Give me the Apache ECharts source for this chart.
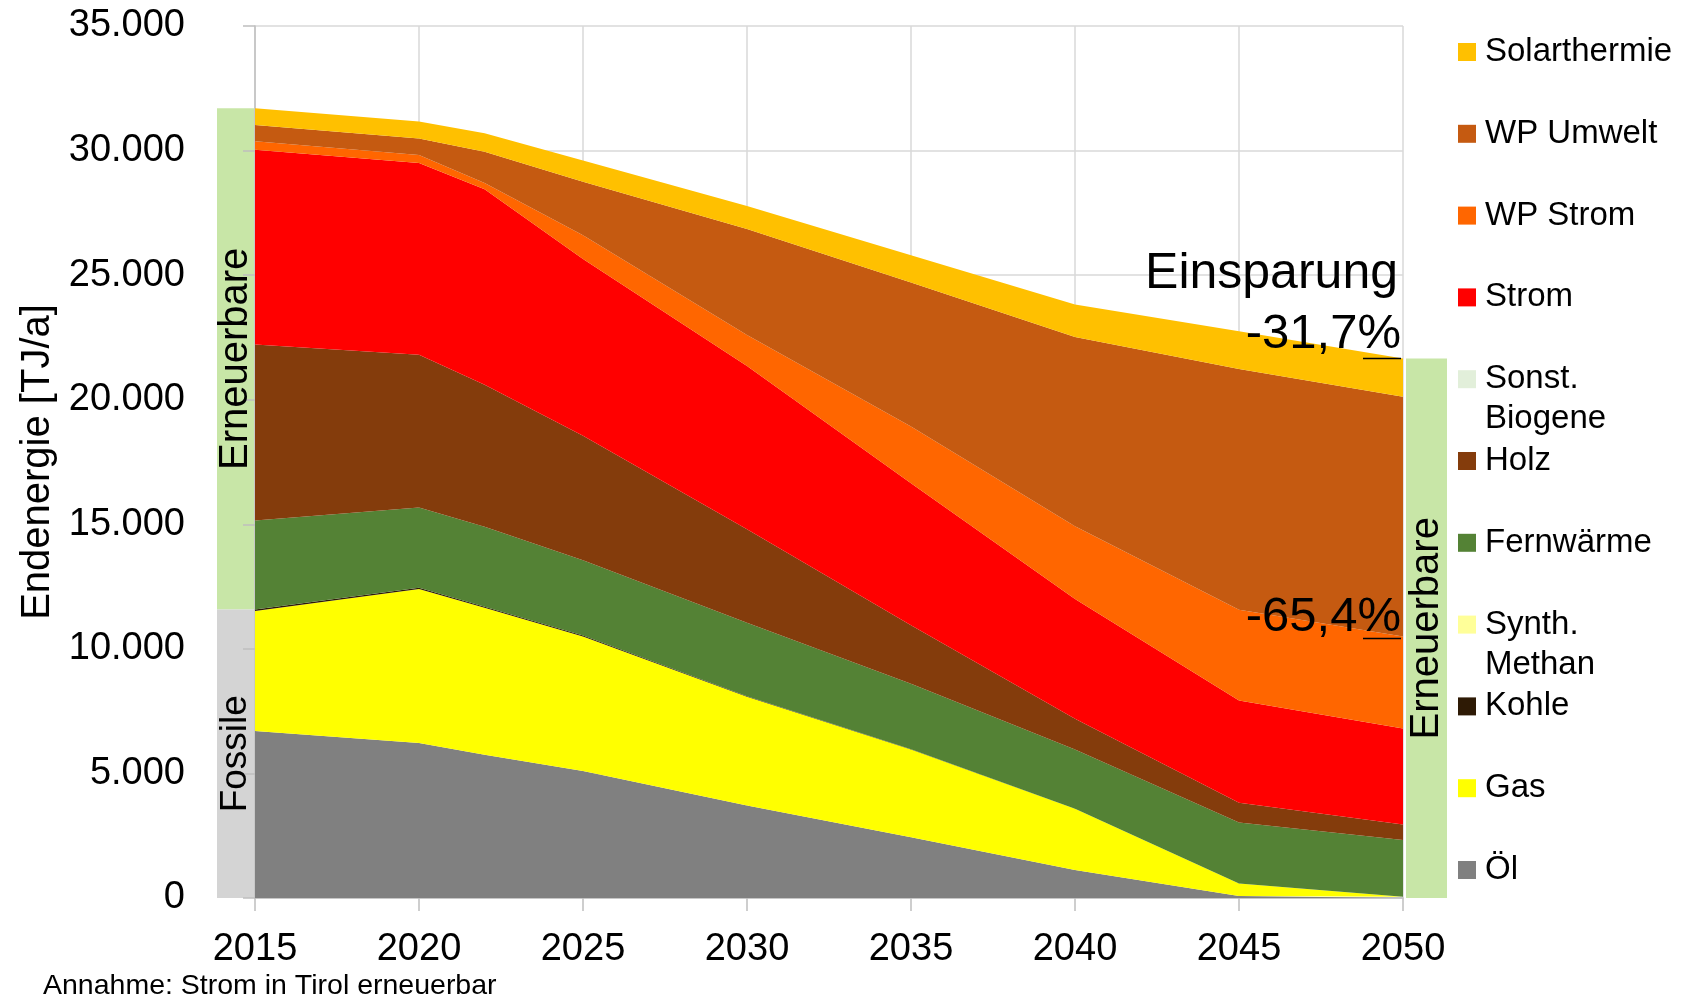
<!DOCTYPE html>
<html>
<head>
<meta charset="utf-8">
<title>Endenergie Tirol 2015–2050</title>
<script src="https://cdn.jsdelivr.net/npm/echarts@6/dist/echarts.min.js"></script>
<style>
  html, body { margin: 0; padding: 0; background: #fff; }
  #chart { width: 1687px; height: 1000px; }
</style>
</head>
<body>
<div id="chart"></div>
<script>
// Stützjahre des Szenarios
const years = [2015, 2020, 2022, 2025, 2030, 2035, 2040, 2045, 2050];

// Endenergie je Energieträger in TJ/a (von unten nach oben gestapelt)
const oel          = [6700, 6220, 5750, 5100, 3710, 2440, 1120,   80,    0];
const gas          = [4820, 6180, 5900, 5400, 4370, 3520, 2460,  500,   50];
const kohle        = [  60,   50,   45,   35,   20,   10,    0,    0,    0];
const synthMethan  = [   0,    0,    0,    0,    0,    0,    0,    0,    0];
const fernwaerme   = [3570, 3220, 3205, 3025, 2950, 2630, 2380, 2450, 2280];
const holz         = [7070, 6130, 5700, 4990, 3750, 2350, 1230,  790,  620];
const sonstBiogene = [   0,    0,    0,    0,    0,    0,    0,    0,    0];
const strom        = [7810, 7700, 7850, 7100, 6550, 5700, 4810, 4110, 3850];
const wpStrom      = [ 340,  320,  250,  950, 1250, 2270, 2920, 3640, 3700];
const wpUmwelt     = [ 660,  660, 1250, 2150, 4250, 5780, 7600, 9660, 9620];
const solarthermie = [ 670,  690,  750,  850,  930, 1100, 1300, 1520, 1530];

// Achsenbeschriftung
const yTicks = [0, 5000, 10000, 15000, 20000, 25000, 30000, 35000];
const xTicks = [2015, 2020, 2025, 2030, 2035, 2040, 2045, 2050];

// Texte
const yAxisTitle = 'Endenergie [TJ/a]';
const footnote = 'Annahme: Strom in Tirol erneuerbar';
const savingTitle = 'Einsparung';
const savingTotal = '-31,7%';
const savingPurchased = '-65,4%';

const FONT = 'Liberation Sans, Arial, Helvetica, sans-serif';

// Reihenfolge von unten nach oben, mit Farben
const layers = [
  { name: 'Öl',              data: oel,          color: '#808080', fossil: true },
  { name: 'Gas',             data: gas,          color: '#FFFF00', fossil: true },
  { name: 'Kohle',           data: kohle,        color: '#2E1A05', fossil: true },
  { name: 'Synth.\nMethan',  data: synthMethan,  color: '#FFFF99' },
  { name: 'Fernwärme',       data: fernwaerme,   color: '#548235' },
  { name: 'Holz',            data: holz,         color: '#843C0C' },
  { name: 'Sonst.\nBiogene', data: sonstBiogene, color: '#E2EFDA' },
  { name: 'Strom',           data: strom,        color: '#FF0000' },
  { name: 'WP Strom',        data: wpStrom,      color: '#FF6600' },
  { name: 'WP Umwelt',       data: wpUmwelt,     color: '#C55A11' },
  { name: 'Solarthermie',    data: solarthermie, color: '#FFC000' }
];

const dePoints = v => String(v).replace(/\B(?=(\d{3})+(?!\d))/g, '.');

const chart = echarts.init(document.getElementById('chart'), null, { renderer: 'canvas' });

// Wert steht in Spalte 0, Jahr in Spalte 1, damit der Stapel auf der Wertachse (y) liegt
const series = layers.map(l => ({
  name: l.name,
  type: 'line',
  stack: 'gesamt',
  symbol: 'none',
  showSymbol: false,
  smooth: false,
  encode: { x: 1, y: 0 },
  lineStyle: { width: 0 },
  areaStyle: { color: l.color, opacity: 1 },
  itemStyle: { color: l.color },
  emphasis: { disabled: true },
  data: years.map((y, i) => [l.data[i], y])
}));

chart.setOption({
  animation: false,
  backgroundColor: '#ffffff',
  textStyle: { fontFamily: FONT, color: '#000' },
  grid: { left: 255, right: 284, top: 26, bottom: 102, containLabel: false },
  xAxis: {
    type: 'value',
    min: xTicks[0],
    max: xTicks[xTicks.length - 1],
    interval: 5,
    axisLine: { show: true, lineStyle: { color: '#bfbfbf', width: 1.5 } },
    axisTick: { show: true, length: 13, lineStyle: { color: '#bfbfbf', width: 1.5 } },
    axisLabel: { fontSize: 38, fontFamily: FONT, color: '#000', margin: 33,
                 formatter: v => String(v) },
    splitLine: { show: true, lineStyle: { color: '#d9d9d9', width: 1.5 } }
  },
  yAxis: {
    type: 'value',
    min: yTicks[0],
    max: yTicks[yTicks.length - 1],
    interval: 5000,
    name: yAxisTitle,
    nameLocation: 'middle',
    nameGap: 197,
    nameTextStyle: { fontSize: 40, fontFamily: FONT, color: '#000' },
    axisLine: { show: true, lineStyle: { color: '#bfbfbf', width: 1.5 } },
    axisTick: { show: true, length: 12, lineStyle: { color: '#bfbfbf', width: 1.5 } },
    axisLabel: { fontSize: 38, fontFamily: FONT, color: '#000', margin: 70,
                 formatter: v => dePoints(v) },
    splitLine: { show: true, lineStyle: { color: '#d9d9d9', width: 1.5 } }
  },
  series: series
});

// Summen für Randbalken und Einsparungs-Markierungen
const n = years.length;
const sumAt = (i, upto) => layers.slice(0, upto).reduce((s, l) => s + l.data[i], 0);
const total2015 = sumAt(0, layers.length);
const total2050 = sumAt(n - 1, layers.length);
const fossil2015 = layers.filter(l => l.fossil).reduce((s, l) => s + l.data[0], 0);
const idxWpStrom = layers.findIndex(l => l.name === 'WP Strom');
const purchased2050 = sumAt(n - 1, idxWpStrom + 1);

const px = (x, y) => chart.convertToPixel({ gridIndex: 0 }, [x, y]);
const xL = px(years[0], 0)[0];
const xR = px(years[n - 1], 0)[0];
const y0 = px(years[0], 0)[1];
const yTot15 = px(years[0], total2015)[1];
const yFos15 = px(years[0], fossil2015)[1];
const yTot50 = px(years[n - 1], total2050)[1];
const yPur50 = px(years[n - 1], purchased2050)[1];

const bandGreen = '#C8E6A7';
const bandGrey = '#D4D4D4';

const graphics = [];

// Randbalken links: Erneuerbare / Fossile im Startjahr
graphics.push({ type: 'rect', z: -1, shape: { x: xL - 38, y: yTot15, width: 37, height: yFos15 - yTot15 }, style: { fill: bandGreen } });
graphics.push({ type: 'rect', z: -1, shape: { x: xL - 38, y: yFos15, width: 37, height: y0 - yFos15 }, style: { fill: bandGrey } });
// Randbalken rechts: Erneuerbare im Zieljahr
graphics.push({ type: 'rect', z: -1, shape: { x: xR + 3, y: yTot50, width: 41, height: y0 - yTot50 }, style: { fill: bandGreen } });

const vText = (text, cx, cy, size) => ({
  type: 'text', z: 10, x: cx, y: cy, rotation: Math.PI / 2,
  style: { text: text, font: size + 'px ' + FONT, fill: '#000',
           align: 'center', verticalAlign: 'middle',
           textAlign: 'center', textVerticalAlign: 'middle' }
});
graphics.push(vText('Erneuerbare', xL - 19, (yTot15 + yFos15) / 2, 40));
graphics.push(vText('Fossile', xL - 19, (yFos15 + y0) / 2, 37));
graphics.push(vText('Erneuerbare', xR + 24, (yTot50 + y0) / 2, 40));

// Einsparungen 2050 gegenüber 2015
const rText = (text, x, y, size) => ({
  type: 'text', z: 20, x: x, y: y,
  style: { text: text, font: size + 'px ' + FONT, fill: '#000',
           align: 'right', verticalAlign: 'middle',
           textAlign: 'right', textVerticalAlign: 'middle' }
});
graphics.push(rText(savingTitle, xR - 5, yTot50 - 84, 50));
graphics.push(rText(savingTotal, xR - 2, yTot50 - 24, 49));
graphics.push({ type: 'line', z: 20, shape: { x1: xR - 40, y1: yTot50, x2: xR - 2, y2: yTot50 }, style: { stroke: '#000', lineWidth: 1.5 } });
graphics.push(rText(savingPurchased, xR - 2, yPur50 - 19, 49));
graphics.push({ type: 'line', z: 20, shape: { x1: xR - 40, y1: yPur50 + 2, x2: xR - 2, y2: yPur50 + 2 }, style: { stroke: '#000', lineWidth: 1.5 } });

// Legende (oberster Layer zuerst)
const legendTop = 52;
const legendStep = 81.8;
layers.slice().reverse().forEach((l, i) => {
  const cy = legendTop + i * legendStep;
  graphics.push({ type: 'rect', z: 20, shape: { x: 1458, y: cy - 9, width: 18, height: 18 }, style: { fill: l.color } });
  graphics.push({
    type: 'text', z: 20, x: 1485, y: cy - 20,
    style: { text: l.name, font: '33px ' + FONT, fill: '#000', lineHeight: 40,
             align: 'left', verticalAlign: 'top',
             textAlign: 'left', textVerticalAlign: 'top' }
  });
});

// Fußnote
graphics.push({
  type: 'text', z: 20, x: 43, y: 986,
  style: { text: footnote, font: '28.5px ' + FONT, fill: '#000',
           align: 'left', verticalAlign: 'middle',
           textAlign: 'left', textVerticalAlign: 'middle' }
});

chart.setOption({ graphic: { elements: graphics } });
</script>
</body>
</html>
